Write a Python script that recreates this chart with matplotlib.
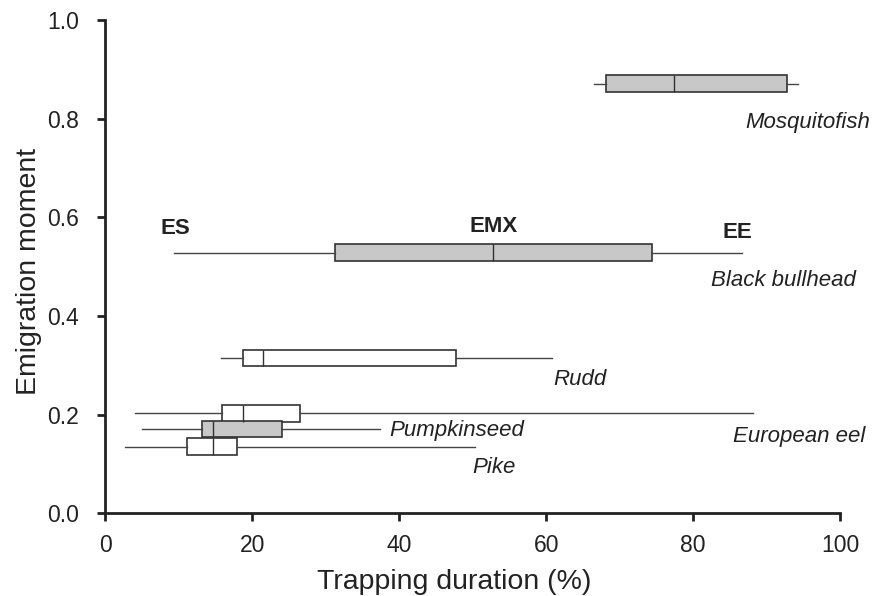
import matplotlib
matplotlib.use("Agg")
import matplotlib.pyplot as plt

plt.rcParams['font.family'] = ['Liberation Sans', 'DejaVu Sans']

# datos (duracion de trampeo, %)
especies = ["Mosquitofish", "Black bullhead", "Rudd", "European eel", "Pumpkinseed", "Pike"]
momento = [0.871, 0.528, 0.315, 0.203, 0.171, 0.135]
inicio = [66.5, 9.3, 15.7, 4.0, 5.0, 2.7]
q1 = [68.1, 31.3, 18.7, 15.9, 13.2, 11.1]
mediana = [77.4, 52.7, 21.5, 18.7, 14.7, 14.7]
q3 = [92.8, 74.4, 47.7, 26.5, 24.0, 17.9]
fin = [94.3, 86.6, 60.8, 88.2, 37.4, 50.3]
relleno = ["#c8c8c8", "#c8c8c8", "white", "white", "#c8c8c8", "white"]

# posicion de las etiquetas
etiqueta_x = [87.1, 82.5, 61.0, 85.4, 38.7, 49.9]
etiqueta_y = [0.793, 0.471, 0.272, 0.155, 0.167, 0.092]

marcas = ["ES", "EMX", "EE"]
marcas_x = [9.5, 52.9, 86.0]
marcas_y = [0.578, 0.582, 0.570]

fig = plt.figure(figsize=(8.72, 5.96), dpi=100)
ax = fig.add_axes([0.1208, 0.1388, 0.8425, 0.8276])

stats = []
for i in range(len(especies)):
    stats.append({"whislo": inicio[i], "q1": q1[i], "med": mediana[i],
                  "q3": q3[i], "whishi": fin[i], "fliers": []})

res = ax.bxp(stats, positions=momento, widths=0.034, orientation="horizontal",
             showcaps=False, showfliers=False, patch_artist=True, manage_ticks=False,
             boxprops=dict(edgecolor="#333333", linewidth=1.2),
             whiskerprops=dict(color="#444444", linewidth=1.0),
             medianprops=dict(color="#333333", linewidth=1.0))
for caja, c in zip(res["boxes"], relleno):
    caja.set_facecolor(c)

for nombre, x, y in zip(especies, etiqueta_x, etiqueta_y):
    ax.text(x, y, nombre, fontsize=16, style="italic", ha="left", va="center", color="#222222")

for m, x, y in zip(marcas, marcas_x, marcas_y):
    ax.text(x, y, m, fontsize=16, fontweight="bold", ha="center", va="center", color="#222222")

ax.set_xlim(0, 100)
ax.set_ylim(0, 1.0)
ax.set_xticks([0, 20, 40, 60, 80, 100])
ax.set_yticks([0.0, 0.2, 0.4, 0.6, 0.8, 1.0])
ax.set_yticklabels(["0.0", "0.2", "0.4", "0.6", "0.8", "1.0"])
ax.spines["top"].set_visible(False)
ax.spines["right"].set_visible(False)
for lado in ["left", "bottom"]:
    ax.spines[lado].set_linewidth(2.0)
    ax.spines[lado].set_color("#222222")
ax.tick_params(direction="out", length=6, width=2.0, labelsize=16.5, colors="#222222")
ax.tick_params(axis="x", pad=9)
ax.tick_params(axis="y", pad=13)
ax.set_xlabel("Trapping duration (%)", fontsize=20.5, color="#222222")
ax.set_ylabel("Emigration moment", fontsize=20.5, color="#222222")
ax.xaxis.set_label_coords(0.475, -0.112)
ax.yaxis.set_label_coords(-0.086, 0.49)

fig.savefig("out.png", dpi=100)
